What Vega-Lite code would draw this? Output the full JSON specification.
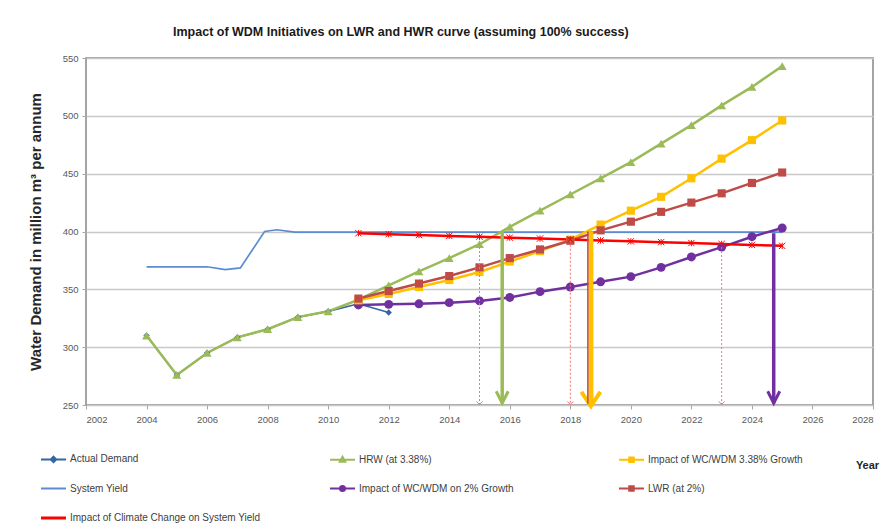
{
  "$schema": "https://vega.github.io/schema/vega-lite/v6.json",
  "width": 787,
  "height": 347,
  "autosize": "none",
  "padding": {"left": 86, "top": 58, "right": 22, "bottom": 126},
  "background": "white",
  "config": {
    "font": "Liberation Sans",
    "view": {"stroke": "#868686", "strokeWidth": 1.5},
    "axis": {
      "labelFont": "Liberation Sans",
      "labelFontSize": 9.5,
      "labelColor": "#595959",
      "tickColor": "#A6A6A6",
      "tickSize": 4,
      "domain": false,
      "gridColor": "#C8C8C8",
      "gridWidth": 1.5,
      "titleFont": "Liberation Sans",
      "titleFontSize": 11,
      "titleFontWeight": "bold",
      "titleColor": "#262626"
    }
  },
  "title": {
    "text": "Impact of WDM Initiatives on LWR and HWR curve (assuming 100% success)",
    "anchor": "start",
    "frame": "group",
    "dx": 87,
    "offset": 15,
    "font": "Liberation Sans",
    "fontSize": 12.5,
    "fontWeight": "bold",
    "color": "#1A1A1A"
  },
  "datasets": {
    "series": [
      {"series": "Actual Demand", "year": 2004, "demand": 310},
      {"series": "Actual Demand", "year": 2005, "demand": 276},
      {"series": "Actual Demand", "year": 2006, "demand": 295},
      {"series": "Actual Demand", "year": 2007, "demand": 308.5},
      {"series": "Actual Demand", "year": 2008, "demand": 315.5},
      {"series": "Actual Demand", "year": 2009, "demand": 326},
      {"series": "Actual Demand", "year": 2010, "demand": 331},
      {"series": "Actual Demand", "year": 2011, "demand": 337.5},
      {"series": "Actual Demand", "year": 2012, "demand": 330},

      {"series": "System Yield", "year": 2004, "demand": 369.5},
      {"series": "System Yield", "year": 2006, "demand": 369.5},
      {"series": "System Yield", "year": 2006.6, "demand": 367},
      {"series": "System Yield", "year": 2007.1, "demand": 368.5},
      {"series": "System Yield", "year": 2007.9, "demand": 400},
      {"series": "System Yield", "year": 2008.3, "demand": 401.5},
      {"series": "System Yield", "year": 2008.9, "demand": 399.5},
      {"series": "System Yield", "year": 2025, "demand": 399.5},

      {"series": "HRW (at 3.38%)", "year": 2004, "demand": 310},
      {"series": "HRW (at 3.38%)", "year": 2005, "demand": 276},
      {"series": "HRW (at 3.38%)", "year": 2006, "demand": 295},
      {"series": "HRW (at 3.38%)", "year": 2007, "demand": 308.5},
      {"series": "HRW (at 3.38%)", "year": 2008, "demand": 315.5},
      {"series": "HRW (at 3.38%)", "year": 2009, "demand": 326},
      {"series": "HRW (at 3.38%)", "year": 2010, "demand": 331},
      {"series": "HRW (at 3.38%)", "year": 2011, "demand": 341},
      {"series": "HRW (at 3.38%)", "year": 2012, "demand": 353.5},
      {"series": "HRW (at 3.38%)", "year": 2013, "demand": 365.5},
      {"series": "HRW (at 3.38%)", "year": 2014, "demand": 377},
      {"series": "HRW (at 3.38%)", "year": 2015, "demand": 389},
      {"series": "HRW (at 3.38%)", "year": 2016, "demand": 404},
      {"series": "HRW (at 3.38%)", "year": 2017, "demand": 418},
      {"series": "HRW (at 3.38%)", "year": 2018, "demand": 432},
      {"series": "HRW (at 3.38%)", "year": 2019, "demand": 446},
      {"series": "HRW (at 3.38%)", "year": 2020, "demand": 460},
      {"series": "HRW (at 3.38%)", "year": 2021, "demand": 476},
      {"series": "HRW (at 3.38%)", "year": 2022, "demand": 492},
      {"series": "HRW (at 3.38%)", "year": 2023, "demand": 509},
      {"series": "HRW (at 3.38%)", "year": 2024, "demand": 525},
      {"series": "HRW (at 3.38%)", "year": 2025, "demand": 543},

      {"series": "Impact of WC/WDM on 2% Growth", "year": 2011, "demand": 336.5},
      {"series": "Impact of WC/WDM on 2% Growth", "year": 2012, "demand": 337},
      {"series": "Impact of WC/WDM on 2% Growth", "year": 2013, "demand": 337.5},
      {"series": "Impact of WC/WDM on 2% Growth", "year": 2014, "demand": 338.5},
      {"series": "Impact of WC/WDM on 2% Growth", "year": 2015, "demand": 340},
      {"series": "Impact of WC/WDM on 2% Growth", "year": 2016, "demand": 343},
      {"series": "Impact of WC/WDM on 2% Growth", "year": 2017, "demand": 348},
      {"series": "Impact of WC/WDM on 2% Growth", "year": 2018, "demand": 352},
      {"series": "Impact of WC/WDM on 2% Growth", "year": 2019, "demand": 356.5},
      {"series": "Impact of WC/WDM on 2% Growth", "year": 2020, "demand": 361},
      {"series": "Impact of WC/WDM on 2% Growth", "year": 2021, "demand": 369},
      {"series": "Impact of WC/WDM on 2% Growth", "year": 2022, "demand": 378},
      {"series": "Impact of WC/WDM on 2% Growth", "year": 2023, "demand": 386.5},
      {"series": "Impact of WC/WDM on 2% Growth", "year": 2024, "demand": 395.5},
      {"series": "Impact of WC/WDM on 2% Growth", "year": 2025, "demand": 403},

      {"series": "Impact of WC/WDM 3.38% Growth", "year": 2011, "demand": 340.5},
      {"series": "Impact of WC/WDM 3.38% Growth", "year": 2012, "demand": 346},
      {"series": "Impact of WC/WDM 3.38% Growth", "year": 2013, "demand": 352},
      {"series": "Impact of WC/WDM 3.38% Growth", "year": 2014, "demand": 358},
      {"series": "Impact of WC/WDM 3.38% Growth", "year": 2015, "demand": 365},
      {"series": "Impact of WC/WDM 3.38% Growth", "year": 2016, "demand": 374},
      {"series": "Impact of WC/WDM 3.38% Growth", "year": 2017, "demand": 383},
      {"series": "Impact of WC/WDM 3.38% Growth", "year": 2018, "demand": 393},
      {"series": "Impact of WC/WDM 3.38% Growth", "year": 2019, "demand": 406},
      {"series": "Impact of WC/WDM 3.38% Growth", "year": 2020, "demand": 418},
      {"series": "Impact of WC/WDM 3.38% Growth", "year": 2021, "demand": 430},
      {"series": "Impact of WC/WDM 3.38% Growth", "year": 2022, "demand": 446},
      {"series": "Impact of WC/WDM 3.38% Growth", "year": 2023, "demand": 463},
      {"series": "Impact of WC/WDM 3.38% Growth", "year": 2024, "demand": 479},
      {"series": "Impact of WC/WDM 3.38% Growth", "year": 2025, "demand": 496},

      {"series": "LWR (at 2%)", "year": 2011, "demand": 342},
      {"series": "LWR (at 2%)", "year": 2012, "demand": 348.5},
      {"series": "LWR (at 2%)", "year": 2013, "demand": 355},
      {"series": "LWR (at 2%)", "year": 2014, "demand": 361.5},
      {"series": "LWR (at 2%)", "year": 2015, "demand": 369},
      {"series": "LWR (at 2%)", "year": 2016, "demand": 377},
      {"series": "LWR (at 2%)", "year": 2017, "demand": 384.5},
      {"series": "LWR (at 2%)", "year": 2018, "demand": 392},
      {"series": "LWR (at 2%)", "year": 2019, "demand": 401},
      {"series": "LWR (at 2%)", "year": 2020, "demand": 408.5},
      {"series": "LWR (at 2%)", "year": 2021, "demand": 417},
      {"series": "LWR (at 2%)", "year": 2022, "demand": 425},
      {"series": "LWR (at 2%)", "year": 2023, "demand": 433},
      {"series": "LWR (at 2%)", "year": 2024, "demand": 442},
      {"series": "LWR (at 2%)", "year": 2025, "demand": 451},

      {"series": "Impact of Climate Change on System Yield", "year": 2011, "demand": 398.5},
      {"series": "Impact of Climate Change on System Yield", "year": 2012, "demand": 397.7},
      {"series": "Impact of Climate Change on System Yield", "year": 2013, "demand": 397},
      {"series": "Impact of Climate Change on System Yield", "year": 2014, "demand": 396.2},
      {"series": "Impact of Climate Change on System Yield", "year": 2015, "demand": 395.5},
      {"series": "Impact of Climate Change on System Yield", "year": 2016, "demand": 394.7},
      {"series": "Impact of Climate Change on System Yield", "year": 2017, "demand": 393.9},
      {"series": "Impact of Climate Change on System Yield", "year": 2018, "demand": 393.1},
      {"series": "Impact of Climate Change on System Yield", "year": 2019, "demand": 392.3},
      {"series": "Impact of Climate Change on System Yield", "year": 2020, "demand": 391.5},
      {"series": "Impact of Climate Change on System Yield", "year": 2021, "demand": 390.8},
      {"series": "Impact of Climate Change on System Yield", "year": 2022, "demand": 390},
      {"series": "Impact of Climate Change on System Yield", "year": 2023, "demand": 389.2},
      {"series": "Impact of Climate Change on System Yield", "year": 2024, "demand": 388.4},
      {"series": "Impact of Climate Change on System Yield", "year": 2025, "demand": 387.6}
    ],
    "arrows": [
      {"series": "HRW (at 3.38%)", "year": 2015.75, "demand": 400, "floor": 251.5},
      {"series": "Impact of WC/WDM 3.38% Growth", "year": 2018.68, "demand": 400, "floor": 249},
      {"series": "LWR (at 2%)", "year": 2018.58, "demand": 400, "floor": 251},
      {"series": "Impact of WC/WDM on 2% Growth", "year": 2024.72, "demand": 398.5, "floor": 251.5}
    ],
    "drops": [
      {"year": 2015, "demand": 390, "floor": 250.5},
      {"year": 2018, "demand": 392, "floor": 250.5},
      {"year": 2023, "demand": 386.5, "floor": 250.5}
    ]
  },
  "encoding": {
    "x": {
      "field": "year",
      "type": "quantitative",
      "scale": {"domain": [2002, 2028], "nice": false, "zero": false},
      "axis": {
        "title": "Year",
        "values": [2002, 2004, 2006, 2008, 2010, 2012, 2014, 2016, 2018, 2020, 2022, 2024, 2026, 2028],
        "format": "d",
        "grid": false,
        "labelPadding": 5,
        "titleX": 781,
        "titleY": 60,
        "titleAlign": "center",
        "titleBaseline": "middle",
        "titleAngle": 0
      }
    },
    "y": {
      "field": "demand",
      "type": "quantitative",
      "scale": {"domain": [250, 550], "nice": false, "zero": false},
      "axis": {
        "title": "Water Demand in million m³ per annum",
        "values": [250, 300, 350, 400, 450, 500, 550],
        "format": "d",
        "grid": true,
        "labelPadding": 4,
        "titleFontSize": 15,
        "titleX": -51,
        "titleY": 173.5,
        "titleAlign": "center",
        "titleBaseline": "middle",
        "titleAngle": 270
      }
    }
  },
  "layer": [
    {
      "data": {"name": "series"},
      "transform": [{"filter": "datum.series === 'Actual Demand' || datum.series === 'System Yield'"}],
      "mark": {"type": "line", "strokeWidth": 1.7},
      "encoding": {
        "color": {
          "field": "series",
          "type": "nominal",
          "scale": {
            "domain": ["Actual Demand", "HRW (at 3.38%)", "Impact of WC/WDM 3.38% Growth", "System Yield", "Impact of WC/WDM on 2% Growth", "LWR (at 2%)", "Impact of Climate Change on System Yield"],
            "range": ["#3465A4", "#9BBB59", "#FFC000", "#5B8BD0", "#7030A0", "#BE4B48", "#FF0000"]
          }
        }
      }
    },
    {
      "data": {"name": "series"},
      "transform": [{"filter": "datum.series !== 'Actual Demand' && datum.series !== 'System Yield'"}],
      "mark": {"type": "line", "strokeWidth": 2.5},
      "encoding": {"color": {"field": "series", "type": "nominal"}}
    },
    {
      "data": {"name": "series"},
      "transform": [{"filter": "datum.series === 'Actual Demand'"}],
      "mark": {"type": "point", "filled": true, "opacity": 1, "shape": "diamond", "size": 40},
      "encoding": {"color": {"field": "series", "type": "nominal"}}
    },
    {
      "data": {"name": "series"},
      "transform": [{"filter": "datum.series === 'HRW (at 3.38%)'"}],
      "mark": {"type": "point", "filled": true, "opacity": 1, "shape": "triangle-up", "size": 80},
      "encoding": {"color": {"field": "series", "type": "nominal"}}
    },
    {
      "data": {"name": "series"},
      "transform": [{"filter": "datum.series === 'Impact of WC/WDM on 2% Growth'"}],
      "mark": {"type": "point", "filled": true, "opacity": 1, "shape": "circle", "size": 80},
      "encoding": {"color": {"field": "series", "type": "nominal"}}
    },
    {
      "data": {"name": "series"},
      "transform": [{"filter": "datum.series === 'Impact of WC/WDM 3.38% Growth' || datum.series === 'LWR (at 2%)'"}],
      "mark": {"type": "point", "filled": true, "opacity": 1, "shape": "square", "size": 66},
      "encoding": {"color": {"field": "series", "type": "nominal"}}
    },
    {
      "data": {"name": "series"},
      "transform": [{"filter": "datum.series === 'Impact of Climate Change on System Yield'"}],
      "mark": {
        "type": "point",
        "filled": false,
        "opacity": 1,
        "shape": "M-1,-1L1,1M-1,1L1,-1M0,-1L0,1",
        "size": 40,
        "strokeWidth": 1,
        "color": "#FF0000"
      },
      "encoding": {}
    },
    {
      "data": {"name": "drops"},
      "mark": {"type": "rule", "color": "#FF6F6F", "strokeWidth": 1, "strokeDash": [2, 2]},
      "encoding": {"y2": {"field": "floor"}}
    },
    {
      "data": {"name": "drops"},
      "mark": {
        "type": "point",
        "filled": false,
        "opacity": 1,
        "shape": "M-1,-1L0,0L1,-1",
        "size": 36,
        "strokeWidth": 1,
        "color": "#FF6F6F"
      },
      "encoding": {"y": {"field": "floor", "type": "quantitative"}}
    },
    {
      "data": {"name": "arrows"},
      "transform": [{"filter": "datum.series === 'Impact of WC/WDM 3.38% Growth'"}],
      "mark": {"type": "rule", "strokeWidth": 5},
      "encoding": {
        "color": {"field": "series", "type": "nominal"},
        "y2": {"field": "floor"}
      }
    },
    {
      "data": {"name": "arrows"},
      "transform": [{"filter": "datum.series === 'Impact of WC/WDM 3.38% Growth'"}],
      "mark": {
        "type": "point",
        "filled": false,
        "opacity": 1,
        "shape": "M-1,-1.5L0,0L1,-1.5",
        "size": 361,
        "strokeWidth": 4,
        "strokeJoin": "miter"
      },
      "encoding": {
        "color": {"field": "series", "type": "nominal"},
        "y": {"field": "floor", "type": "quantitative"}
      }
    },
    {
      "data": {"name": "arrows"},
      "transform": [{"filter": "datum.series === 'LWR (at 2%)'"}],
      "mark": {"type": "rule", "strokeWidth": 1.5},
      "encoding": {
        "color": {"field": "series", "type": "nominal"},
        "y2": {"field": "floor"}
      }
    },
    {
      "data": {"name": "arrows"},
      "transform": [{"filter": "datum.series === 'HRW (at 3.38%)' || datum.series === 'Impact of WC/WDM on 2% Growth'"}],
      "mark": {"type": "rule", "strokeWidth": 3.5},
      "encoding": {
        "color": {"field": "series", "type": "nominal"},
        "y2": {"field": "floor"}
      }
    },
    {
      "data": {"name": "arrows"},
      "transform": [{"filter": "datum.series === 'HRW (at 3.38%)' || datum.series === 'Impact of WC/WDM on 2% Growth'"}],
      "mark": {
        "type": "point",
        "filled": false,
        "opacity": 1,
        "shape": "M-1,-2L0,0L1,-2",
        "size": 144,
        "strokeWidth": 3,
        "strokeJoin": "miter"
      },
      "encoding": {
        "color": {"field": "series", "type": "nominal"},
        "y": {"field": "floor", "type": "quantitative"}
      }
    },
    {
      "description": "Legend keys: a line segment with the series marker in its middle",
      "data": {"name": "series"},
      "transform": [{"filter": "false"}],
      "mark": {"type": "point", "filled": true, "opacity": 1, "strokeWidth": 2},
      "encoding": {
        "color": {
          "field": "series",
          "type": "nominal",
          "legend": {
            "title": null,
            "orient": "none",
            "direction": "horizontal",
            "legendX": -46,
            "legendY": 387.5,
            "values": ["Actual Demand", "HRW (at 3.38%)", "Impact of WC/WDM 3.38% Growth", "System Yield", "Impact of WC/WDM on 2% Growth", "LWR (at 2%)", "Impact of Climate Change on System Yield"],
            "columns": 3,
            "gridAlign": "all",
            "columnPadding": 65,
            "rowPadding": 8.5,
            "padding": 0,
            "symbolSize": 625,
            "symbolStrokeWidth": 2,
            "symbolOpacity": 1,
            "labelFont": "Liberation Sans",
            "labelFontSize": 10,
            "labelLimit": 400,
            "labelColor": "#404040",
            "labelOffset": 3
          }
        },
        "stroke": {
          "field": "series",
          "type": "nominal",
          "scale": {
            "domain": ["Actual Demand", "HRW (at 3.38%)", "Impact of WC/WDM 3.38% Growth", "System Yield", "Impact of WC/WDM on 2% Growth", "LWR (at 2%)", "Impact of Climate Change on System Yield"],
            "range": ["#3465A4", "#9BBB59", "#FFC000", "#5B8BD0", "#7030A0", "#BE4B48", "#FF0000"]
          },
          "legend": {
            "title": null,
            "orient": "none",
            "direction": "horizontal",
            "legendX": -46,
            "legendY": 387.5,
            "values": ["Actual Demand", "HRW (at 3.38%)", "Impact of WC/WDM 3.38% Growth", "System Yield", "Impact of WC/WDM on 2% Growth", "LWR (at 2%)", "Impact of Climate Change on System Yield"]
          }
        },
        "shape": {
          "field": "series",
          "type": "nominal",
          "scale": {
            "domain": ["Actual Demand", "HRW (at 3.38%)", "Impact of WC/WDM 3.38% Growth", "System Yield", "Impact of WC/WDM on 2% Growth", "LWR (at 2%)", "Impact of Climate Change on System Yield"],
            "range": [
              "M-1,0H1M0,-0.22L0.22,0L0,0.22L-0.22,0Z",
              "M-1,0H1M0,-0.24L0.22,0.16L-0.22,0.16Z",
              "M-1,0H1M-0.18,-0.18H0.18V0.18H-0.18Z",
              "M-1,0H1",
              "M-1,0H1M-0.2,0A0.2,0.2,0,1,0,0.2,0A0.2,0.2,0,1,0,-0.2,0Z",
              "M-1,0H1M-0.18,-0.18H0.18V0.18H-0.18Z",
              "M-1,0.04H1M-1,-0.04H1"
            ]
          },
          "legend": {
            "title": null,
            "orient": "none",
            "direction": "horizontal",
            "legendX": -46,
            "legendY": 387.5,
            "values": ["Actual Demand", "HRW (at 3.38%)", "Impact of WC/WDM 3.38% Growth", "System Yield", "Impact of WC/WDM on 2% Growth", "LWR (at 2%)", "Impact of Climate Change on System Yield"]
          }
        }
      }
    }
  ]
}
